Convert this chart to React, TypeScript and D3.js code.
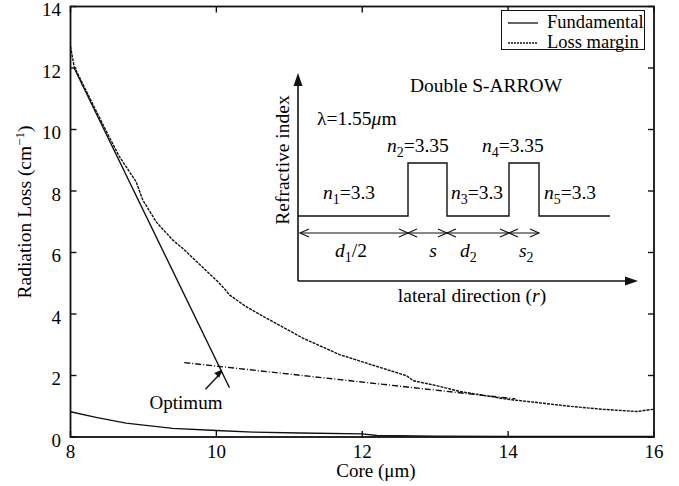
import React from "react";
import * as d3 from "d3";

const xTicks = [8, 10, 12, 14, 16];
const yTicks = [0, 2, 4, 6, 8, 10, 12, 14];

const fundCore = [8, 8.35, 8.76, 9.4, 10, 10.5, 11.14, 12, 12.2, 13, 14, 15, 16];
const fundLoss = [0.82, 0.64, 0.45, 0.28, 0.21, 0.16, 0.13, 0.1, 0.05, 0.03, 0.02, 0.02, 0.02];

const marginCore = [8, 8.05, 8.3, 8.5, 8.67, 8.9, 8.99, 9.18, 9.4, 9.54, 10.02, 10.1, 10.18, 10.4, 10.69, 11.19, 11.69, 12.06, 12.61, 12.7, 13.0, 13.34, 13.98, 14.4, 14.8, 15.3, 15.76, 15.99];
const marginLoss = [12.7, 12.05, 10.85, 9.9, 9.12, 8.3, 7.71, 6.98, 6.41, 6.13, 5.05, 4.85, 4.62, 4.25, 3.86, 3.21, 2.68, 2.4, 1.99, 1.83, 1.68, 1.48, 1.23, 1.12, 1.01, 0.9, 0.83, 0.9];

const steepCore = [8.05, 10.18];
const steepLoss = [12.0, 1.6];
const tailCore = [9.56, 14.1];
const tailLoss = [2.42, 1.24];

const optimumCore = [9.85, 10.08];
const optimumLoss = [1.55, 2.13];

const W = 679, H = 486;
const FONT = "'Liberation Serif', 'Times New Roman', serif";

export default function App() {
  const x = d3.scaleLinear().domain([8, 16]).range([70.5, 654]);
  const y = d3.scaleLinear().domain([0, 14]).range([437, 6.5]);
  const line = d3.line<[number, number]>().x(d => x(d[0])).y(d => y(d[1]));
  const zip = (a: number[], b: number[]) => a.map((v, i) => [v, b[i]] as [number, number]);

  // inset geometry (diagram)
  const ax0 = 298, ayB = 281, ayT = 73, axR = 638;
  const base = 216, top = 163;
  const bx = [298, 408, 447, 509, 539, 610];
  const profile = `M${bx[0]},${base}H${bx[1]}V${top}H${bx[2]}V${base}H${bx[3]}V${top}H${bx[4]}V${base}H${bx[5]}`;
  const dimY = 233;
  const dimX = [300, 408, 447, 509, 539];
  const chev = (px: number, dir: number) => `M${px + dir * 9},${dimY - 4}L${px},${dimY}L${px + dir * 9},${dimY + 4}`;
  const IF = 19.5;

  const sub = (n: string) => (
    <tspan fontSize={14} dy={5}>{n}</tspan>
  );

  return (
    <svg width={W} height={H} style={{ position: "absolute", left: 0, top: 0, background: "#fff" }} fontFamily={FONT}>
      <rect x={0} y={0} width={W} height={H} fill="#fff" />
      {/* curves */}
      <path d={line(zip(fundCore, fundLoss))!} fill="none" stroke="#111" strokeWidth={1.4} />
      <path d={line(zip(marginCore, marginLoss))!} fill="none" stroke="#111" strokeWidth={1.4} strokeDasharray="3,1" />
      <path d={line(zip(steepCore, steepLoss))!} fill="none" stroke="#111" strokeWidth={1.4} />
      <path d={line(zip(tailCore, tailLoss))!} fill="none" stroke="#111" strokeWidth={1.4} strokeDasharray="6,2,1,2" />
      {/* optimum arrow */}
      <line x1={x(optimumCore[0])} y1={y(optimumLoss[0])} x2={x(optimumCore[1])} y2={y(optimumLoss[1])} stroke="#111" strokeWidth={1.4} />
      {(() => {
        const x2 = x(optimumCore[1]), y2 = y(optimumLoss[1]) - 2;
        const ang = Math.atan2(y(optimumLoss[1]) - y(optimumLoss[0]), x(optimumCore[1]) - x(optimumCore[0]));
        const L = 8, w = 3.5;
        const bxp = x2 - L * Math.cos(ang), byp = y2 - L * Math.sin(ang);
        const p1 = [bxp + w * Math.sin(ang), byp - w * Math.cos(ang)];
        const p2 = [bxp - w * Math.sin(ang), byp + w * Math.cos(ang)];
        return <path d={`M${x2},${y2}L${p1[0]},${p1[1]}L${p2[0]},${p2[1]}Z`} fill="#111" />;
      })()}
      <text x={186} y={409} fontSize={19} textAnchor="middle">Optimum</text>

      {/* frame */}
      <rect x={70.5} y={6.5} width={583.5} height={430.5} fill="none" stroke="#111" strokeWidth={1.8} />
      {xTicks.map(t => (
        <g key={"x" + t}>
          <line x1={x(t)} x2={x(t)} y1={437} y2={431} stroke="#111" strokeWidth={1.4} />
          <line x1={x(t)} x2={x(t)} y1={6.5} y2={12.5} stroke="#111" strokeWidth={1.4} />
          <text x={x(t)} y={458} fontSize={19} textAnchor="middle">{t}</text>
        </g>
      ))}
      {yTicks.map(t => (
        <g key={"y" + t}>
          <line x1={70.5} x2={76.5} y1={y(t)} y2={y(t)} stroke="#111" strokeWidth={1.4} />
          <line x1={654} x2={648} y1={y(t)} y2={y(t)} stroke="#111" strokeWidth={1.4} />
          <text x={61} y={y(t) + 9.5} fontSize={19} textAnchor="end">{t}</text>
        </g>
      ))}
      <text x={376} y={477} fontSize={19} textAnchor="middle">Core (μm)</text>
      <text transform="translate(31,212) rotate(-90)" fontSize={19.5} textAnchor="middle">
        Radiation Loss (cm<tspan fontSize={13} dy={-7}>−1</tspan><tspan dy={7}>)</tspan>
      </text>

      {/* legend */}
      <rect x={501.5} y={10.5} width={143} height={39} fill="#fff" stroke="#111" strokeWidth={1} />
      <line x1={508} x2={538} y1={23} y2={23} stroke="#111" strokeWidth={1.3} />
      <line x1={508} x2={538} y1={43} y2={43} stroke="#111" strokeWidth={1.3} strokeDasharray="2,1" />
      <text x={547} y={28} fontSize={18.5}>Fundamental</text>
      <text x={547} y={48} fontSize={18.5}>Loss margin</text>

      {/* inset */}
      <line x1={ax0} x2={ax0} y1={ayB} y2={ayT + 10} stroke="#111" strokeWidth={1.6} />
      <path d={`M${ax0},${ayT}L${ax0 - 4.5},${ayT + 13}L${ax0 + 4.5},${ayT + 13}Z`} fill="#111" />
      <line x1={ax0} x2={axR - 10} y1={ayB} y2={ayB} stroke="#111" strokeWidth={1.6} />
      <path d={`M${axR},${ayB}L${axR - 13},${ayB - 4.5}L${axR - 13},${ayB + 4.5}Z`} fill="#111" />
      <path d={profile} fill="none" stroke="#111" strokeWidth={1.4} />
      <line x1={dimX[0]} x2={dimX[4]} y1={dimY} y2={dimY} stroke="#111" strokeWidth={1.1} />
      <path d={chev(dimX[0], 1)} fill="none" stroke="#111" strokeWidth={1.1} />
      {dimX.slice(1, 4).map((px, i) => (
        <g key={"c" + i}>
          <path d={chev(px, -1)} fill="none" stroke="#111" strokeWidth={1.1} />
          <path d={chev(px, 1)} fill="none" stroke="#111" strokeWidth={1.1} />
        </g>
      ))}
      <path d={chev(dimX[4], -1)} fill="none" stroke="#111" strokeWidth={1.1} />

      <text transform="translate(289,160) rotate(-90)" fontSize={IF} textAnchor="middle">Refractive index</text>
      <text x={486} y={92} fontSize={IF} textAnchor="middle">Double S-ARROW</text>
      <text x={317} y={125} fontSize={IF}>λ=1.55<tspan fontStyle="italic">μ</tspan>m</text>
      <text x={323} y={199} fontSize={IF}><tspan fontStyle="italic">n</tspan>{sub("1")}<tspan dy={-5}>=3.3</tspan></text>
      <text x={387} y={152} fontSize={IF}><tspan fontStyle="italic">n</tspan>{sub("2")}<tspan dy={-5}>=3.35</tspan></text>
      <text x={451} y={199} fontSize={IF}><tspan fontStyle="italic">n</tspan>{sub("3")}<tspan dy={-5}>=3.3</tspan></text>
      <text x={482} y={152} fontSize={IF}><tspan fontStyle="italic">n</tspan>{sub("4")}<tspan dy={-5}>=3.35</tspan></text>
      <text x={544} y={199} fontSize={IF}><tspan fontStyle="italic">n</tspan>{sub("5")}<tspan dy={-5}>=3.3</tspan></text>
      <text x={335} y={257} fontSize={IF}><tspan fontStyle="italic">d</tspan>{sub("1")}<tspan dy={-5}>/2</tspan></text>
      <text x={433} y={257} fontSize={IF} fontStyle="italic" textAnchor="middle">s</text>
      <text x={460} y={257} fontSize={IF}><tspan fontStyle="italic">d</tspan>{sub("2")}</text>
      <text x={519} y={257} fontSize={IF}><tspan fontStyle="italic">s</tspan>{sub("2")}</text>
      <text x={472} y={302} fontSize={IF} textAnchor="middle">lateral direction (<tspan fontStyle="italic">r</tspan>)</text>
    </svg>
  );
}
